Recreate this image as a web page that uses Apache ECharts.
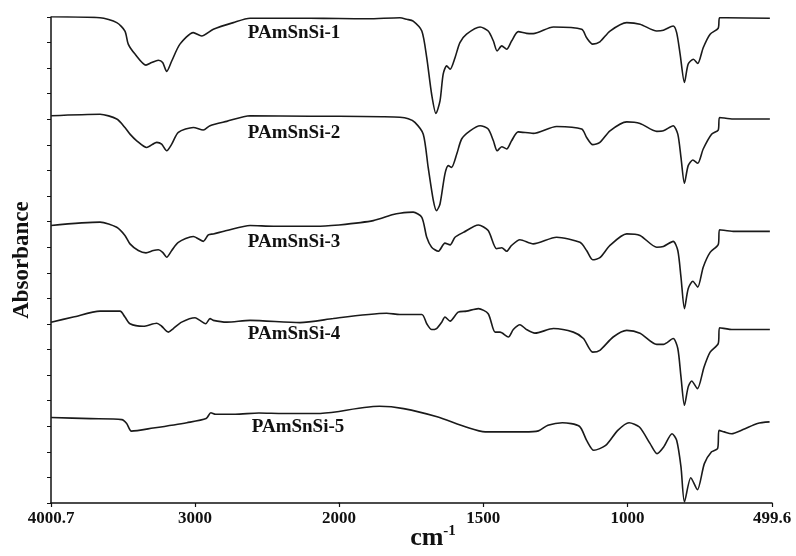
<!DOCTYPE html>
<html>
<head>
<meta charset="utf-8">
<script src="https://cdn.jsdelivr.net/npm/echarts@6/dist/echarts.min.js"></script>
<style>
  html, body { margin: 0; padding: 0; background: #ffffff; }
  #chart { width: 796px; height: 556px; }
</style>
</head>
<body>
<div id="chart"></div>
<script>
// FTIR spectra of the PAmSnSi samples, offset vertically (arbitrary absorbance units).
// Wavenumbers in cm-1, descending.

const wn1 = [4000, 3660, 3544, 3487, 3464, 3417, 3341, 3301, 3255, 3225, 3197, 3162, 3105, 3012, 2954, 2873, 2734, 2618, 2200, 2000,
  1900, 1789, 1765, 1743, 1713, 1696, 1679, 1664, 1650, 1639, 1627, 1615, 1598, 1581, 1558, 1511, 1483, 1465, 1452, 1436,
  1419, 1402, 1379, 1350, 1327, 1257, 1159, 1142, 1121, 1096, 1061, 1003, 957, 899, 876, 842, 830, 818, 803, 790,
  772, 757, 738, 714, 686, 681, 657, 507];
const ab1 = [19.01, 18.97, 18.78, 18.45, 17.94, 17.55, 17.12, 17.22, 17.31, 17.22, 16.87, 17.28, 17.94, 18.39, 18.26, 18.52, 18.78, 18.95, 18.95, 18.94,
  18.93, 18.97, 18.91, 18.84, 18.45, 17.41, 15.98, 15.23, 15.72, 16.77, 17.09, 16.96, 17.41, 18.00, 18.33, 18.61, 18.45, 18.06, 17.67, 17.87,
  17.74, 18.06, 18.43, 18.36, 18.35, 18.61, 18.52, 18.19, 17.94, 18.03, 18.45, 18.78, 18.72, 18.45, 18.48, 18.65, 18.39, 17.55, 16.44, 17.16,
  17.35, 17.18, 17.80, 18.33, 18.56, 18.97, 18.97, 18.95];

const wn2 = [4000, 3660, 3544, 3487, 3452, 3405, 3336, 3266, 3232, 3197, 3162, 3116, 3012, 2943, 2896, 2780, 2618, 2200, 2000,
  1850, 1789, 1760, 1737, 1708, 1691, 1673, 1662, 1650, 1633, 1621, 1610, 1592, 1575, 1546, 1511, 1483, 1465, 1452, 1436,
  1419, 1402, 1379, 1327, 1246, 1159, 1142, 1121, 1096, 1061, 1003, 957, 899, 876, 842, 826, 815, 803, 790, 774,
  757, 738, 709, 686, 681, 634, 507];
const ab2 = [15.14, 15.20, 15.01, 14.68, 14.42, 14.16, 13.90, 14.10, 14.03, 13.77, 14.03, 14.49, 14.68, 14.58, 14.75, 14.92, 15.14, 15.12, 15.12,
  15.10, 15.08, 15.02, 14.88, 14.42, 13.12, 11.82, 11.43, 11.69, 12.86, 13.19, 13.12, 13.64, 14.23, 14.55, 14.75, 14.62, 14.16, 13.77, 13.93,
  13.84, 14.16, 14.51, 14.45, 14.72, 14.62, 14.29, 14.01, 14.10, 14.55, 14.90, 14.84, 14.53, 14.55, 14.75, 14.42, 13.51, 12.50, 13.19, 13.41,
  13.28, 13.84, 14.42, 14.58, 15.07, 15.01, 15.01];

const wn3 = [4000, 3660, 3544, 3487, 3452, 3394, 3341, 3290, 3255, 3225, 3197, 3162, 3116, 3012, 2943, 2908, 2873, 2780, 2618, 2456, 2155, 2000,
  1881, 1812, 1789, 1743, 1713, 1696, 1679, 1656, 1633, 1615, 1598, 1569, 1517, 1483, 1454, 1436, 1419, 1402, 1373,
  1327, 1246, 1165, 1142, 1121, 1096, 1061, 1003, 957, 899, 876, 842, 826, 815, 803, 790, 774, 757, 738, 714, 686, 681, 634, 507];
const ab3 = [10.85, 10.98, 10.78, 10.46, 10.13, 9.87, 9.78, 9.87, 9.90, 9.80, 9.61, 9.87, 10.19, 10.42, 10.23, 10.48, 10.52, 10.65, 10.85, 10.82, 10.82, 10.87,
  11.04, 11.28, 11.33, 11.37, 11.17, 10.39, 10.00, 9.84, 10.16, 10.09, 10.39, 10.58, 10.87, 10.65, 9.94, 9.98, 9.84, 10.07, 10.29,
  10.13, 10.39, 10.19, 9.87, 9.51, 9.59, 10.07, 10.52, 10.46, 10.00, 10.03, 10.23, 9.87, 8.83, 7.60, 8.38, 8.67, 8.44, 9.22, 9.80, 10.10, 10.68, 10.62, 10.62];

const wn4 = [4000, 3846, 3660, 3521, 3487, 3452, 3360, 3266, 3232, 3186, 3151, 3093, 3000, 2966, 2926, 2896, 2873, 2780, 2618, 2271, 2040, 2000,
  1835, 1789, 1713, 1696, 1679, 1662, 1644, 1633, 1615, 1587, 1558, 1517, 1483, 1459, 1442, 1413, 1396, 1373, 1350,
  1321, 1257, 1188, 1153, 1121, 1096, 1050, 1003, 957, 899, 876, 842, 826, 815, 803, 790, 778, 758, 735, 714, 686, 681, 634, 507];
const ab4 = [7.07, 7.27, 7.50, 7.50, 7.27, 7.01, 6.91, 7.03, 6.91, 6.68, 6.82, 7.07, 7.24, 7.14, 7.01, 7.21, 7.14, 7.07, 7.14, 7.05, 7.21, 7.24,
  7.42, 7.37, 7.37, 7.01, 6.78, 6.82, 7.07, 7.27, 7.11, 7.46, 7.50, 7.60, 7.40, 6.68, 6.68, 6.49, 6.78, 6.97, 6.78,
  6.64, 6.82, 6.68, 6.43, 5.90, 5.97, 6.49, 6.75, 6.64, 6.20, 6.20, 6.43, 6.04, 4.93, 3.82, 4.54, 4.77, 4.47, 5.32, 5.90, 6.23, 6.85, 6.78, 6.78];

const wn5 = [4000, 3726, 3509, 3475, 3442, 3291, 3057, 2923, 2890, 2857, 2722, 2556, 2388, 2154, 2000,
  1860, 1776, 1660, 1560, 1493, 1359, 1309, 1276, 1226, 1167, 1142, 1117, 1076, 1034, 995, 959, 922, 898, 875,
  846, 830, 815, 803, 781, 758, 734, 709, 688, 683, 665, 640, 600, 550, 508];
const ab5 = [3.34, 3.30, 3.26, 3.11, 2.81, 2.93, 3.14, 3.30, 3.53, 3.47, 3.47, 3.52, 3.50, 3.50, 3.58,
  3.78, 3.69, 3.37, 2.97, 2.78, 2.78, 2.82, 3.04, 3.14, 3.00, 2.45, 2.06, 2.25, 2.84, 3.14, 2.97, 2.32, 1.93, 2.19,
  2.71, 2.45, 1.41, 0.04, 0.99, 0.52, 1.54, 2.00, 2.13, 2.84, 2.78, 2.71, 2.87, 3.11, 3.17];

const sampleNames = ['PAmSnSi-1', 'PAmSnSi-2', 'PAmSnSi-3', 'PAmSnSi-4', 'PAmSnSi-5'];

// Bottom scale is compressed above 2000 cm-1, so it is drawn as two panels.
const highTicks = [4000.7, 3000, 2000];
const lowTicks = [1500, 1000, 499.6];
const SCALE_BREAK = 2000;

const spectra = [[wn1, ab1], [wn2, ab2], [wn3, ab3], [wn4, ab4], [wn5, ab5]];

function segment(wn, ab, keep) {
  const out = [];
  for (let i = 0; i < wn.length; i++) if (keep(wn[i])) out.push([wn[i], ab[i]]);
  return out;
}

const SERIF = '"Liberation Serif", "Times New Roman", serif';
const INK = '#111111';
const lineStyle = { color: '#1a1a1a', width: 1.6 };

const series = [];
spectra.forEach(([wn, ab], k) => {
  const base = { type: 'line', name: sampleNames[k], showSymbol: false, smooth: 0.25,
    lineStyle: lineStyle, silent: true, animation: false };
  series.push(Object.assign({}, base, { xAxisIndex: 0, yAxisIndex: 0,
    data: segment(wn, ab, w => w >= SCALE_BREAK) }));
  series.push(Object.assign({}, base, { xAxisIndex: 1, yAxisIndex: 1,
    data: segment(wn, ab, w => w <= SCALE_BREAK) }));
});

const tickFmt = v => (Math.abs(v - Math.round(v)) > 1e-6 ? v.toFixed(1) : String(Math.round(v)));

const axisLineStyle = { show: true, lineStyle: { color: INK, width: 1.5 } };
const labelStyle = { color: INK, fontFamily: SERIF, fontWeight: 'bold', fontSize: 17, margin: 7 };

const labelSpots = [[294, 33], [294, 133], [294, 242], [294, 334], [298, 427]];

const chart = echarts.init(document.getElementById('chart'), null, { renderer: 'canvas' });
chart.setOption({
  backgroundColor: '#ffffff',
  animation: false,
  grid: [
    { left: 51, width: 288, top: 17, bottom: 53 },
    { left: 339, width: 433, top: 17, bottom: 53 }
  ],
  xAxis: [
    { type: 'value', gridIndex: 0, min: SCALE_BREAK, max: 4000.7, inverse: true,
      axisLine: axisLineStyle, splitLine: { show: false },
      axisTick: { show: true, length: 4, customValues: highTicks, lineStyle: { color: INK, width: 1.2 } },
      axisLabel: Object.assign({ customValues: highTicks, formatter: tickFmt }, labelStyle) },
    { type: 'value', gridIndex: 1, min: 499.6, max: SCALE_BREAK, inverse: true,
      axisLine: axisLineStyle, splitLine: { show: false },
      axisTick: { show: true, length: 4, customValues: lowTicks, lineStyle: { color: INK, width: 1.2 } },
      axisLabel: Object.assign({ customValues: lowTicks, formatter: tickFmt }, labelStyle) }
  ],
  yAxis: [
    { type: 'value', gridIndex: 0, min: 0, max: 19, interval: 1,
      name: 'Absorbance', nameLocation: 'middle', nameGap: 17,
      nameTextStyle: { color: INK, fontFamily: SERIF, fontWeight: 'bold', fontSize: 23 },
      axisLine: axisLineStyle, splitLine: { show: false },
      axisTick: { show: true, length: 4, lineStyle: { color: INK, width: 1 } },
      axisLabel: { show: false } },
    { type: 'value', gridIndex: 1, min: 0, max: 19, show: false, splitLine: { show: false } }
  ],
  series: series,
  graphic: sampleNames.map((name, k) => ({
    type: 'text', x: labelSpots[k][0], y: labelSpots[k][1], silent: true,
    style: { text: name, fill: INK, fontFamily: SERIF, fontWeight: 'bold', fontSize: 19,
      align: 'center', verticalAlign: 'middle' }
  })).concat([{
    type: 'text', x: 433, y: 538, silent: true,
    style: {
      text: '{u|cm}{s|-1}', align: 'center', verticalAlign: 'middle',
      rich: {
        u: { fontFamily: SERIF, fontWeight: 'bold', fontSize: 26, fill: INK },
        s: { fontFamily: SERIF, fontWeight: 'bold', fontSize: 15, fill: INK, verticalAlign: 'top', padding: [0, 0, 14, 0] }
      }
    }
  }])
});
</script>
</body>
</html>
